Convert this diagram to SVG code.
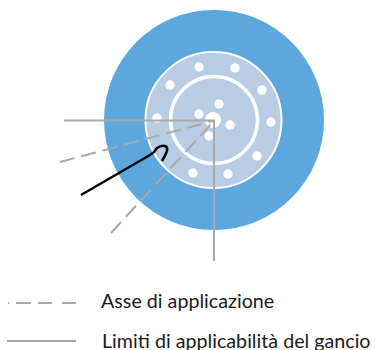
<svg xmlns="http://www.w3.org/2000/svg" width="375" height="350" viewBox="0 0 375 350">
<style>
.d{fill:#fff}
.s{fill:none;stroke:#a9a9a9;stroke-width:2}
.g{stroke-dasharray:15 7}
text{font-family:"Lato","Open Sans",sans-serif;font-size:19.700px;fill:#1a1a1a}
</style>
<rect width="375" height="350" fill="#fff"/>
<g id="wheel">
<circle cx="214" cy="120" r="110" fill="#5ca8de"/>
<circle cx="213.5" cy="120" r="68" fill="#b8cce4" stroke="#fff" stroke-width="2"/>
<circle cx="214" cy="120" r="43.5" fill="none" stroke="#fff" stroke-width="3.5"/>
<circle cx="213" cy="120" r="8" class="d"/>
<circle cx="199" cy="67" r="4.7" class="d"/>
<circle cx="235" cy="68" r="4.7" class="d"/>
<circle cx="170" cy="85" r="4.7" class="d"/>
<circle cx="262" cy="90" r="4.7" class="d"/>
<circle cx="157" cy="118" r="4.7" class="d"/>
<circle cx="271" cy="122" r="4.7" class="d"/>
<circle cx="257" cy="156" r="4.7" class="d"/>
<circle cx="228" cy="174" r="4.7" class="d"/>
<circle cx="193" cy="173" r="4.7" class="d"/>
<circle cx="219" cy="104" r="4.7" class="d"/>
<circle cx="199" cy="114" r="4.7" class="d"/>
<circle cx="230" cy="125" r="4.7" class="d"/>
<circle cx="209" cy="136" r="4.7" class="d"/>
</g>
<g id="connectors">
<path class="s" d="M64 120.500H214V261"/>
<path class="s g" d="M60 162L213 121"/>
<path class="s g" d="M111 233L213 122"/>
</g>
<g id="hook">
<path d="M81 195L150 155Q155 152 157 148Q161 145 165 146Q168 147 167 151Q165 156 162 161" fill="none" stroke="#000" stroke-width="2.500"/>
</g>
<g id="legend">
<path class="s" d="M8 303H9"/>
<path class="s" d="M16 303H31M38 303H52M62 303H76"/>
<path class="s" d="M7 341H76"/>
<text x="101" y="307.500">Asse di applicazione</text>
<text x="102" y="347.500">Limiti di applicabilità del gancio</text>
</g>
</svg>
